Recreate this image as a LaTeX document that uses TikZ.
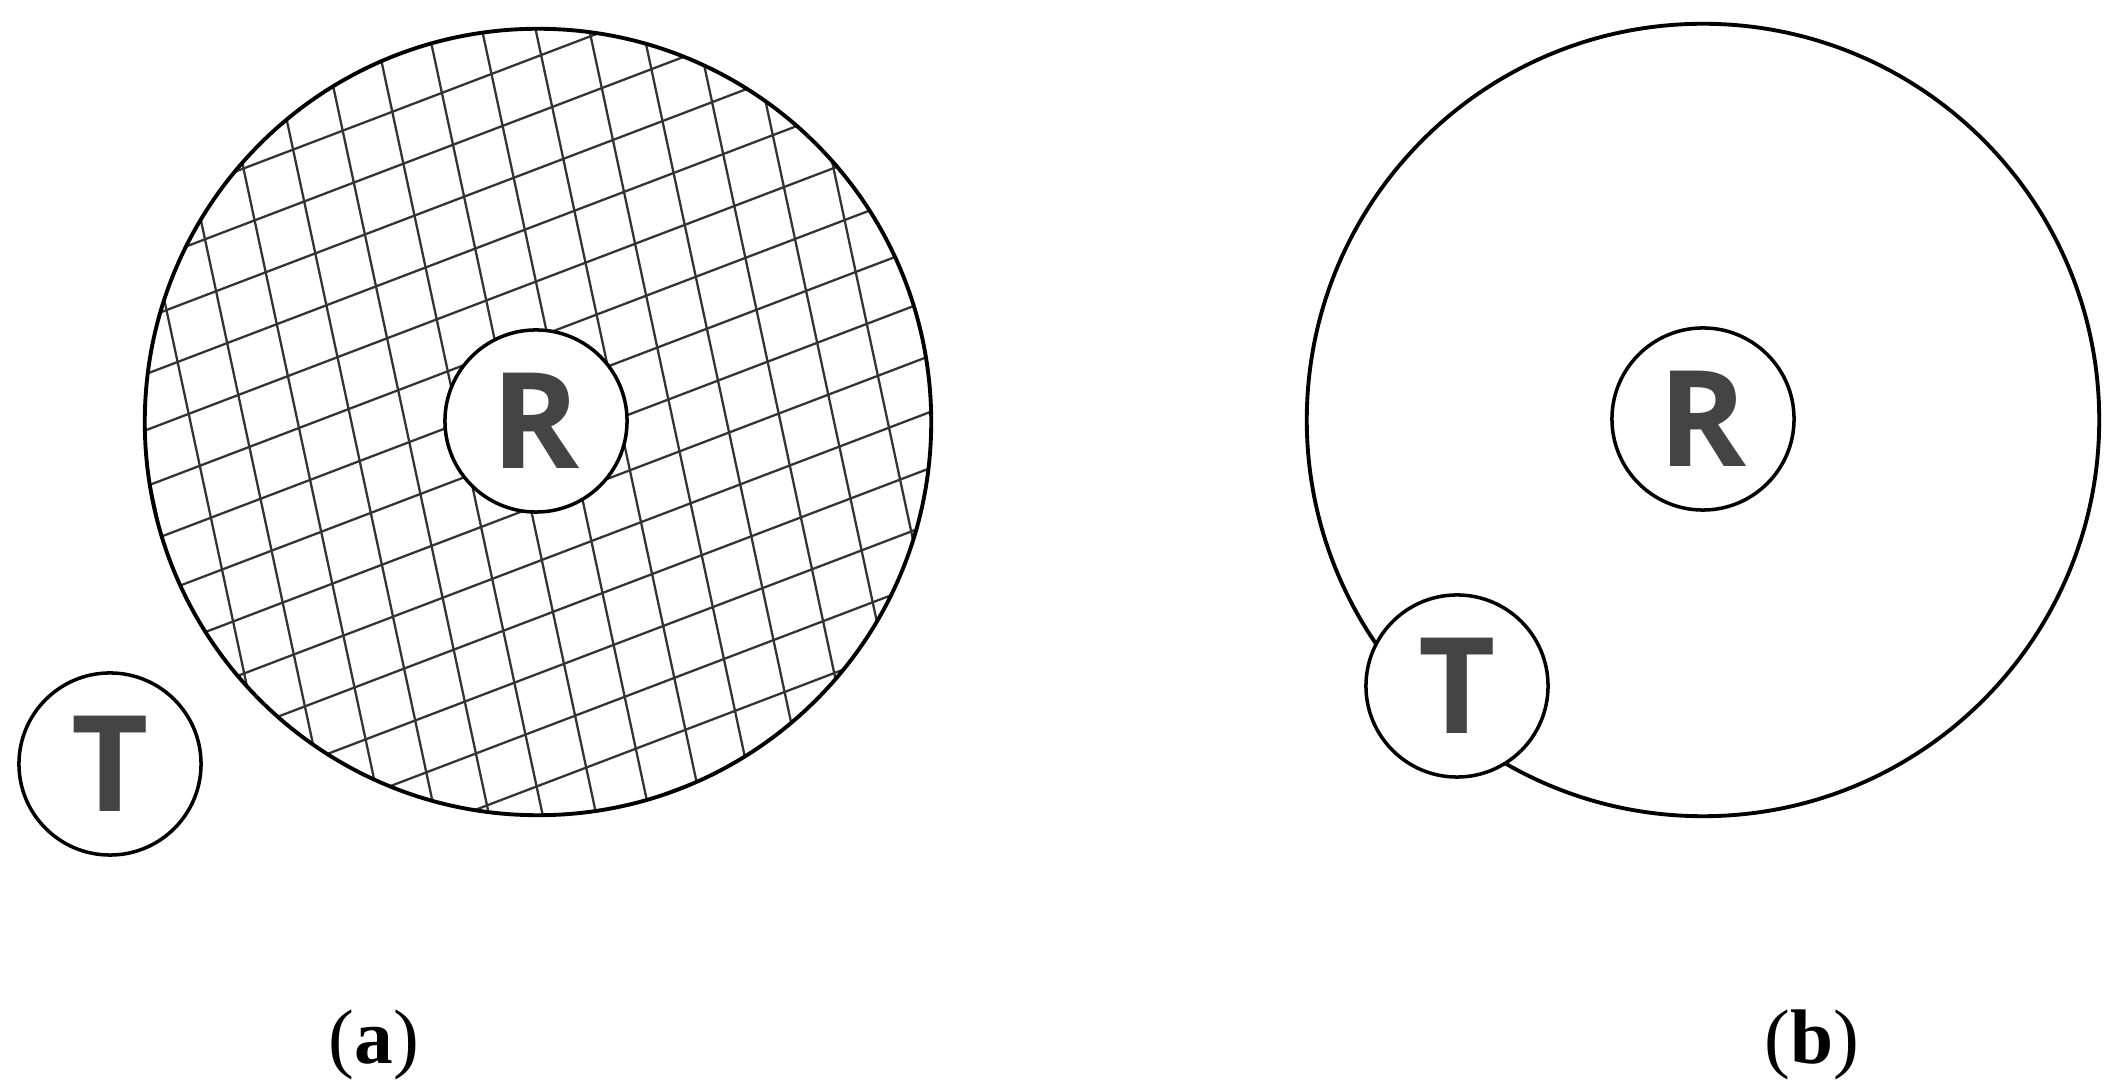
\documentclass[tikz,border=0pt]{standalone}
\usepackage{fontspec}
\IfFontExistsTF{Open Sans Bold}{\newfontfamily\letterfont{Open Sans Bold}}{%
  \IfFontExistsTF{Fira Sans Bold}{\newfontfamily\letterfont{Fira Sans Bold}}{%
    \newfontfamily\letterfont{Noto Sans}[FakeBold=2.5]}}
\newfontfamily\capfont{Liberation Serif}
\definecolor{lettergray}{HTML}{444444}
\tikzset{
  bigc/.style={circle, draw=black, line width=1.1pt, inner sep=0pt, minimum size=7.9cm},
  smallc/.style={circle, draw=black, fill=white, line width=1pt, inner sep=0pt, minimum size=1.82cm,
    font=\letterfont\fontsize{38}{38}\selectfont, text=lettergray},
  gridline/.style={line width=0.65pt, draw=black!80},
  caplabel/.style={font=\capfont\fontsize{22}{22}\selectfont, inner sep=0pt}
}
\begin{document}
\begin{tikzpicture}[x=0.01cm, y=-0.01cm]
\useasboundingbox (0,0) rectangle (2117,1092);
% ---- panel (a) ----
\coordinate (c1) at (538,422);
\begin{scope}
  \clip (c1) circle [radius=3.93cm];
  \foreach \b in {-6,...,17}{
    \draw[gridline] ({205+\b*11.1-12*49.6},{239.3+\b*51.9+12*18.9}) -- ({205+\b*11.1+25*49.6},{239.3+\b*51.9-25*18.9});
  }
  \foreach \a in {-6,...,17}{
    \draw[gridline] ({205+\a*49.6-12*11.1},{239.3-\a*18.9-12*51.9}) -- ({205+\a*49.6+25*11.1},{239.3-\a*18.9+25*51.9});
  }
\end{scope}
\node[bigc, minimum size=7.86cm] (C1) at (c1) {};
\node[smallc] (R1) at (536,421) {R};
\node[smallc] (T1) at (110,764) {T};
\node[caplabel] (La) at (374,1045) {(\textbf{a})};
% ---- panel (b) ----
\node[bigc, minimum size=7.92cm] (C2) at (1703,420) {};
\node[smallc] (R2) at (1703,419) {R};
\node[smallc] (T2) at (1457,686) {T};
\node[caplabel] (Lb) at (1812,1045) {(\textbf{b})};
\end{tikzpicture}
\end{document}
